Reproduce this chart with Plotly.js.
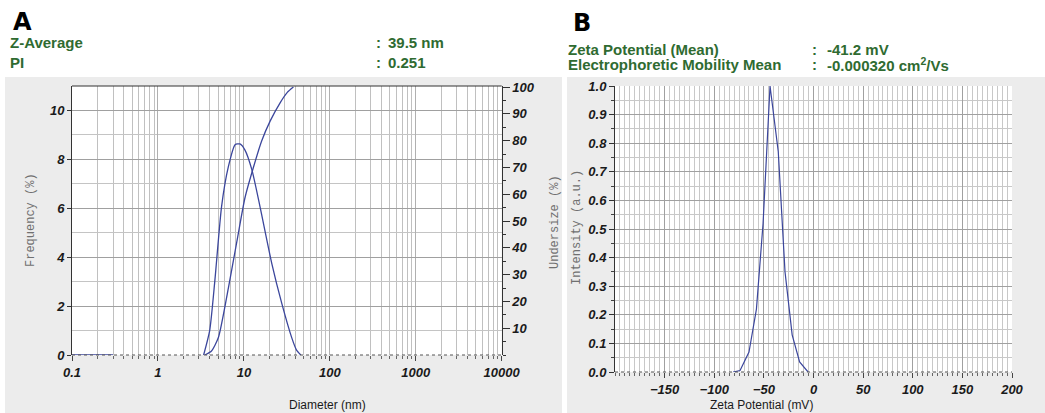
<!DOCTYPE html>
<html>
<head>
<meta charset="utf-8">
<script src="https://cdn.plot.ly/plotly-3.0.1.min.js"></script>
<style>
html,body{margin:0;padding:0;background:#ffffff;}
#chart{width:1045px;height:413px;}
</style>
</head>
<body>
<div id="chart"></div>
<script>
// ---- Panel A: size distribution ----
const diameterNm = [3.4, 4.0, 4.6, 5.5, 6.6, 7.9, 9.0, 10.3, 12.4, 15.4, 21.1, 27.6, 36.1, 41, 46];
const frequencyPct = [0, 1.0, 3.06, 6.07, 7.7, 8.6, 8.63, 8.38, 7.57, 6.07, 3.75, 2.11, 0.7, 0.2, 0];
const undersizeDiameterNm = [3.5, 4.2, 5.05, 6.6, 8.3, 10.3, 12.9, 16.1, 20.2, 26.4, 32, 37.7];
const undersizePct = [0, 1.5, 6.5, 25, 42.5, 58.7, 70, 79.9, 87.3, 94.1, 98, 100];
const baselineDiameterNm = [0.1, 0.3];
const baselineFrequency = [0, 0];
const diameterTicks = [0.1, 1, 10, 100, 1000, 10000];
const diameterTickText = ['0.1', '1', '10', '100', '1000', '10000'];

// ---- Panel B: zeta potential ----
const zetaMv = [-81, -74, -65, -57.5, -50.8, -43.8, -35.5, -28.7, -21.5, -14, -5.5];
const zetaIntensity = [0, 0.005, 0.07, 0.22, 0.52, 1.0, 0.77, 0.35, 0.13, 0.035, 0];

// header values
const headerA = [['Z-Average', '39.5 nm'], ['PI', '0.251']];
const headerB = [['Zeta Potential (Mean)', '-41.2 mV'], ['Electrophoretic Mobility Mean', '-0.000320 cm<sup>2</sup>/Vs']];

const W = 1045, H = 413;
const px = x => x / W;
const py = y => 1 - y / H;

const blue = '#3b469c';
const green = '#2f6b31';
const tickFont = {family: 'Liberation Sans, Arial, sans-serif', size: 13, weight: 'bold', style: 'italic', color: '#1a1a1a'};

// minor tick positions for log axis
const logMinor = [];
for (let e = -1; e < 4; e++) for (let k = 2; k <= 9; k++) logMinor.push(k * Math.pow(10, e));

const traces = [
  {x: baselineDiameterNm, y: baselineFrequency, xaxis: 'x', yaxis: 'y', mode: 'lines', line: {color: blue, width: 1.3}, hoverinfo: 'skip'},
  {x: diameterNm, y: frequencyPct, xaxis: 'x', yaxis: 'y', mode: 'lines', line: {color: blue, width: 1.3, shape: 'spline', smoothing: 0.6}},
  {x: undersizeDiameterNm, y: undersizePct, xaxis: 'x', yaxis: 'y2', mode: 'lines', line: {color: blue, width: 1.3, shape: 'spline', smoothing: 0.6}},
  {x: zetaMv, y: zetaIntensity, xaxis: 'x2', yaxis: 'y3', mode: 'lines', line: {color: blue, width: 1.2}}
];

const annotations = [];
annotations.push({text: '<b>A</b>', x: px(11), y: py(22), xref: 'paper', yref: 'paper', xanchor: 'left', yanchor: 'middle', showarrow: false, font: {family: 'DejaVu Sans', size: 24, color: '#000'}});
annotations.push({text: '<b>B</b>', x: px(571), y: py(23), xref: 'paper', yref: 'paper', xanchor: 'left', yanchor: 'middle', showarrow: false, font: {family: 'DejaVu Sans', size: 24, color: '#000'}});
const hFont = {family: 'Liberation Sans, Arial, sans-serif', size: 15, color: green, weight: 'bold'};
headerA.forEach((row, i) => {
  const yy = py(43 + i * 19);
  annotations.push({text: row[0], x: px(8), y: yy, xref: 'paper', yref: 'paper', xanchor: 'left', yanchor: 'middle', showarrow: false, font: hFont});
  annotations.push({text: ':', x: px(374), y: yy, xref: 'paper', yref: 'paper', xanchor: 'left', yanchor: 'middle', showarrow: false, font: hFont});
  annotations.push({text: row[1], x: px(386), y: yy, xref: 'paper', yref: 'paper', xanchor: 'left', yanchor: 'middle', showarrow: false, font: hFont});
});
headerB.forEach((row, i) => {
  const yy = py(49 + i * 16);
  annotations.push({text: row[0], x: px(566), y: yy, xref: 'paper', yref: 'paper', xanchor: 'left', yanchor: 'middle', showarrow: false, font: hFont});
  annotations.push({text: ':', x: px(810), y: yy, xref: 'paper', yref: 'paper', xanchor: 'left', yanchor: 'middle', showarrow: false, font: hFont});
  annotations.push({text: row[1], x: px(825), y: yy, xref: 'paper', yref: 'paper', xanchor: 'left', yanchor: 'middle', showarrow: false, font: hFont});
});
const monoFont = {family: 'Liberation Mono, Courier New, monospace', size: 12, color: '#707070'};
annotations.push({text: 'Frequency (%)', x: px(22), y: py(220), xref: 'paper', yref: 'paper', textangle: -90, showarrow: false, font: monoFont});
annotations.push({text: 'Undersize (%)', x: px(555), y: py(222), xref: 'paper', yref: 'paper', textangle: -90, showarrow: false, font: monoFont});
annotations.push({text: 'Intensity (a.u.)', x: px(577), y: py(228), xref: 'paper', yref: 'paper', textangle: -90, showarrow: false, font: monoFont});
const xtFont = {family: 'Liberation Sans, Arial, sans-serif', size: 12, color: '#1a1a1a'};
annotations.push({text: 'Diameter (nm)', x: px(287), y: py(405), xref: 'paper', yref: 'paper', yanchor: 'middle', showarrow: false, font: xtFont});
annotations.push({text: 'Zeta Potential (mV)', x: px(815), y: py(405), xref: 'paper', yref: 'paper', yanchor: 'middle', showarrow: false, font: xtFont});

const shapes = [
  {type: 'rect', xref: 'paper', yref: 'paper', x0: px(5), x1: px(562), y0: 0, y1: py(77), fillcolor: '#ececec', line: {width: 0}, layer: 'below'},
  {type: 'rect', xref: 'paper', yref: 'paper', x0: px(567), x1: 1, y0: 0, y1: py(77), fillcolor: '#ececec', line: {width: 0}, layer: 'below'},
  {type: 'rect', xref: 'x domain', yref: 'y domain', x0: 0, x1: 1, y0: 0, y1: 1, fillcolor: '#ffffff', line: {width: 0}, layer: 'below'},
  {type: 'rect', xref: 'x2 domain', yref: 'y3 domain', x0: 0, x1: 1, y0: 0, y1: 1, fillcolor: '#ffffff', line: {width: 0}, layer: 'below'},
  {type: 'line', xref: 'x domain', yref: 'y domain', x0: 0, x1: 1, y0: 0, y1: 0, line: {color: '#555', width: 1, dash: 'dot'}, layer: 'above'},
  {type: 'line', xref: 'x2 domain', yref: 'y3 domain', x0: 0, x1: 1, y0: 0, y1: 0, line: {color: '#555', width: 1, dash: 'dot'}, layer: 'above'},
  {type: 'line', xref: 'x domain', yref: 'y domain', x0: 0, x1: 1, y0: 1, y1: 1, line: {color: '#333', width: 1.2}, layer: 'above'}
];

const layout = {
  width: W, height: H,
  margin: {l: 0, r: 0, t: 0, b: 0},
  paper_bgcolor: '#ffffff',
  plot_bgcolor: 'rgba(0,0,0,0)',
  showlegend: false,
  xaxis: {
    type: 'log', domain: [px(72), px(501.7)], range: [-1, 4], anchor: 'y',
    tickvals: diameterTicks, ticktext: diameterTickText,
    ticks: 'outside', ticklen: 5, tickcolor: '#444', tickfont: tickFont,
    showgrid: true, gridcolor: '#b0b0b0', gridwidth: 1,
    minor: {tickvals: logMinor, ticks: 'outside', ticklen: 3, tickcolor: '#666', showgrid: true, gridcolor: '#c0c0c0', gridwidth: 1},
    showline: false, zeroline: false
  },
  yaxis: {
    domain: [py(355), py(86)], range: [0, 11], anchor: 'x',
    tickvals: [0, 2, 4, 6, 8, 10], ticks: 'outside', ticklen: 4, tickcolor: '#333', tickfont: tickFont,
    showgrid: true, gridcolor: '#a0a0a0', gridwidth: 1,
    minor: {dtick: 1, showgrid: true, gridcolor: '#c4c4c4', ticks: ''},
    showline: true, linecolor: '#333', linewidth: 1, zeroline: false
  },
  yaxis2: {
    overlaying: 'y', side: 'right', anchor: 'x', range: [0, 100.4],
    tickvals: [10, 20, 30, 40, 50, 60, 70, 80, 90, 100], ticks: 'outside', ticklen: 7, tickcolor: '#333', tickfont: tickFont,
    minor: {dtick: 5, ticks: 'outside', ticklen: 3, tickcolor: '#333', showgrid: false},
    showgrid: false, showline: true, linecolor: '#333', linewidth: 1, zeroline: false
  },
  xaxis2: {
    domain: [px(615), px(1012)], range: [-200, 200], anchor: 'y3',
    tickvals: [-150, -100, -50, 0, 50, 100, 150, 200], ticks: 'outside', ticklen: 5, tickcolor: '#444', tickfont: tickFont,
    showgrid: true, gridcolor: '#a0a0a0', gridwidth: 1,
    minor: {dtick: 5, ticks: 'outside', ticklen: 3, tickcolor: '#666', showgrid: true, gridcolor: '#c8c8c8', gridwidth: 1},
    showline: false, zeroline: false
  },
  yaxis3: {
    domain: [py(372), py(86)], range: [0, 1.0], anchor: 'x2',
    tickvals: [0, 0.1, 0.2, 0.3, 0.4, 0.5, 0.6, 0.7, 0.8, 0.9, 1.0], ticktext: ['0.0','0.1','0.2','0.3','0.4','0.5','0.6','0.7','0.8','0.9','1.0'],
    ticks: 'outside', ticklen: 5, tickcolor: '#333', tickfont: tickFont,
    showgrid: true, gridcolor: '#a0a0a0', gridwidth: 1,
    minor: {dtick: 0.05, ticks: 'outside', ticklen: 3, tickcolor: '#444', showgrid: true, gridcolor: '#c8c8c8', gridwidth: 1},
    showline: true, linecolor: '#333', linewidth: 1, zeroline: false
  },
  annotations: annotations,
  shapes: shapes
};

Plotly.newPlot('chart', traces, layout, {displayModeBar: false, staticPlot: true});
</script>
</body>
</html>
